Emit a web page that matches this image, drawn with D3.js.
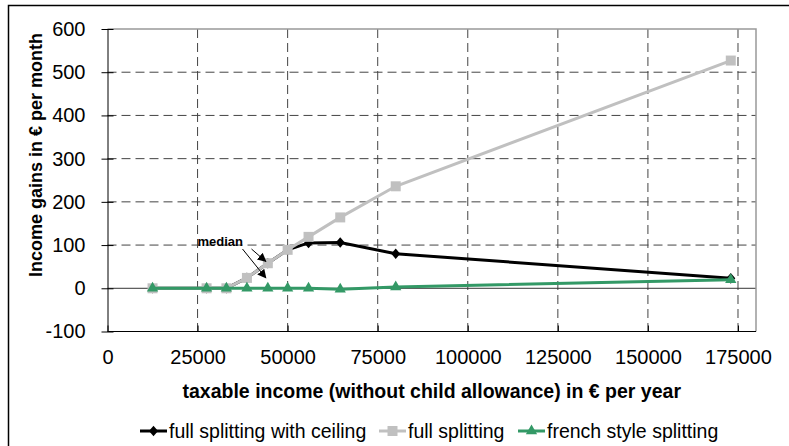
<!DOCTYPE html>
<html>
<head>
<meta charset="utf-8">
<script src="https://cdn.jsdelivr.net/npm/d3@7"></script>
<style>
body { margin: 0; background: #fff; }
text { font-family: "Liberation Sans", Arial, sans-serif; }
</style>
</head>
<body>
<svg></svg>
<script>
// values
var incomes = [12500, 27500, 33000, 38700, 44500, 50000, 55800, 64600, 80000, 173000];
var ceilingGains = [0, 0, 0, 24, 58, 89, 105, 106, 80, 23];
var fullGains = [0, 0, 0, 24, 58, 89, 119, 164, 236, 527];
var frenchGains = [0, 0, 0, 0, 0, 0, 0, -2, 3, 20];
var seriesNames = ["full splitting with ceiling", "full splitting", "french style splitting"];
var xTicks = [0, 25000, 50000, 75000, 100000, 125000, 150000, 175000];
var yTicks = [-100, 0, 100, 200, 300, 400, 500, 600];

drawChart = function(){
    var svgWidth = 789;
    var svgHeight = 446;
    var left = 107.5, right = 756, top = 29, bottom = 331.5;

    var svg = d3.select("svg")
        .attr("width", svgWidth)
        .attr("height", svgHeight);

    var defs = svg.append("defs");
    defs.append("marker")
        .attr("id", "arrow")
        .attr("viewBox", "0 0 10 10")
        .attr("refX", 9).attr("refY", 5)
        .attr("markerWidth", 9).attr("markerHeight", 9)
        .attr("markerUnits", "userSpaceOnUse")
        .attr("orient", "auto")
        .append("path").attr("d", "M0,0L10,5L0,10z").attr("fill", "#000");

    // outer chart border
    svg.append("rect")
        .attr("x", 8.5).attr("y", 5.5)
        .attr("width", 800).attr("height", 460)
        .attr("fill", "none").attr("stroke", "#000").attr("stroke-width", 1.5);

    var x = d3.scaleLinear().domain([0, 180000]).range([left, right]);
    var y = d3.scaleLinear().domain([-100, 600]).range([bottom, top]);

    // grid lines
    svg.append("g").selectAll(null)
        .data(xTicks.filter(function(d){ return d > 0; }))
        .enter().append("line")
        .attr("x1", function(d){ return x(d); }).attr("x2", function(d){ return x(d); })
        .attr("y1", top).attr("y2", bottom)
        .attr("stroke", "#444").attr("stroke-width", 1)
        .attr("stroke-dasharray", "9,5");

    svg.append("g").selectAll(null)
        .data(yTicks.filter(function(d){ return d > -100 && d < 600 && d != 0; }))
        .enter().append("line")
        .attr("x1", left).attr("x2", right)
        .attr("y1", function(d){ return y(d); }).attr("y2", function(d){ return y(d); })
        .attr("stroke", "#444").attr("stroke-width", 1)
        .attr("stroke-dasharray", "9,5");

    // zero line
    svg.append("line")
        .attr("x1", left).attr("x2", right)
        .attr("y1", y(0)).attr("y2", y(0))
        .attr("stroke", "#333").attr("stroke-width", 1);

    // plot area border (top + right)
    svg.append("path")
        .attr("d", "M" + left + "," + top + "H" + right + "V" + bottom)
        .attr("fill", "none").attr("stroke", "#999").attr("stroke-width", 1.5);

    // y axis
    var yAxis = svg.append("g")
        .attr("transform", "translate(" + left + ",0)")
        .call(d3.axisLeft(y).tickValues(yTicks).tickSize(6).tickSizeOuter(0).tickPadding(16).tickFormat(function(d){ return String(d); }));
    yAxis.select(".domain").attr("stroke", "#000");
    yAxis.selectAll(".tick line").attr("x2", 6).attr("x1", -6).attr("stroke", "#000");
    yAxis.selectAll("text").style("font-size", "20px").attr("fill", "#000");

    // x axis
    var xAxis = svg.append("g")
        .attr("transform", "translate(0," + bottom + ")")
        .call(d3.axisBottom(x).tickValues(xTicks).tickSizeInner(-6).tickSizeOuter(0).tickPadding(18).tickFormat(function(d){ return String(d); }));
    xAxis.select(".domain").attr("stroke", "#000").attr("d", "M" + left + ",0H" + right);
    xAxis.selectAll(".tick line").attr("stroke", "#000");
    xAxis.selectAll("text").style("font-size", "20px").attr("fill", "#000");

    // axis titles
    svg.append("text")
        .attr("transform", "translate(42,155) rotate(-90)")
        .attr("text-anchor", "middle")
        .style("font-size", "18px").style("font-weight", "bold")
        .text("Income gains in € per month");

    svg.append("text")
        .attr("x", (left + right) / 2).attr("y", 398)
        .attr("text-anchor", "middle")
        .style("font-size", "19.5px").style("font-weight", "bold")
        .text("taxable income (without child allowance) in € per year");

    var line = d3.line()
        .x(function(d){ return x(d[0]); })
        .y(function(d){ return y(d[1]); });

    var series = [
        { values: ceilingGains, colour: "#000000", symbol: d3.symbolDiamond, size: 45 },
        { values: fullGains, colour: "#c0c0c0", symbol: d3.symbolSquare, size: 100 },
        { values: frenchGains, colour: "#339966", symbol: d3.symbolTriangle, size: 55 }
    ];

    series.forEach(function(s){
        var pts = incomes.map(function(inc, i){ return [inc, s.values[i]]; });
        svg.append("path")
            .datum(pts)
            .attr("d", line)
            .attr("fill", "none")
            .attr("stroke", s.colour)
            .attr("stroke-width", 3);
        svg.append("g").selectAll(null)
            .data(pts)
            .enter().append("path")
            .attr("d", d3.symbol().type(s.symbol).size(s.size))
            .attr("transform", function(d){
                var sy = s.symbol == d3.symbolDiamond ? " scale(1.25,0.85)" : "";
                return "translate(" + x(d[0]) + "," + y(d[1]) + ")" + sy;
            })
            .attr("fill", s.colour);
    });

    // median annotation
    var mx = x(incomes[4]);
    svg.append("text")
        .attr("x", 197.5).attr("y", 245.5)
        .style("font-size", "13px").style("font-weight", "bold")
        .text("median");
    svg.append("line")
        .attr("x1", 251.5).attr("y1", 249)
        .attr("x2", mx - 2).attr("y2", y(62))
        .attr("stroke", "#000").attr("stroke-width", 1)
        .attr("marker-end", "url(#arrow)");
    svg.append("line")
        .attr("x1", 242.5).attr("y1", 249)
        .attr("x2", mx - 2).attr("y2", y(24))
        .attr("stroke", "#000").attr("stroke-width", 1)
        .attr("marker-end", "url(#arrow)");

    // legend
    var legendX = [140, 379, 518];
    var legend = svg.append("g").selectAll(null)
        .data(series)
        .enter().append("g")
        .attr("transform", function(d, i){ return "translate(" + legendX[i] + ",431)"; });
    legend.append("line")
        .attr("x1", 0).attr("x2", 27)
        .attr("stroke", function(d){ return d.colour; })
        .attr("stroke-width", 3);
    legend.append("path")
        .attr("d", function(d){ return d3.symbol().type(d.symbol).size(d.size)(); })
        .attr("transform", function(d){
            return "translate(13.5,0)" + (d.symbol == d3.symbolDiamond ? " scale(1.25,0.85)" : "");
        })
        .attr("fill", function(d){ return d.colour; });
    legend.append("text")
        .attr("x", 29).attr("y", 7)
        .style("font-size", "19.5px")
        .text(function(d, i){ return seriesNames[i]; });
}

drawChart()
</script>
</body>
</html>
